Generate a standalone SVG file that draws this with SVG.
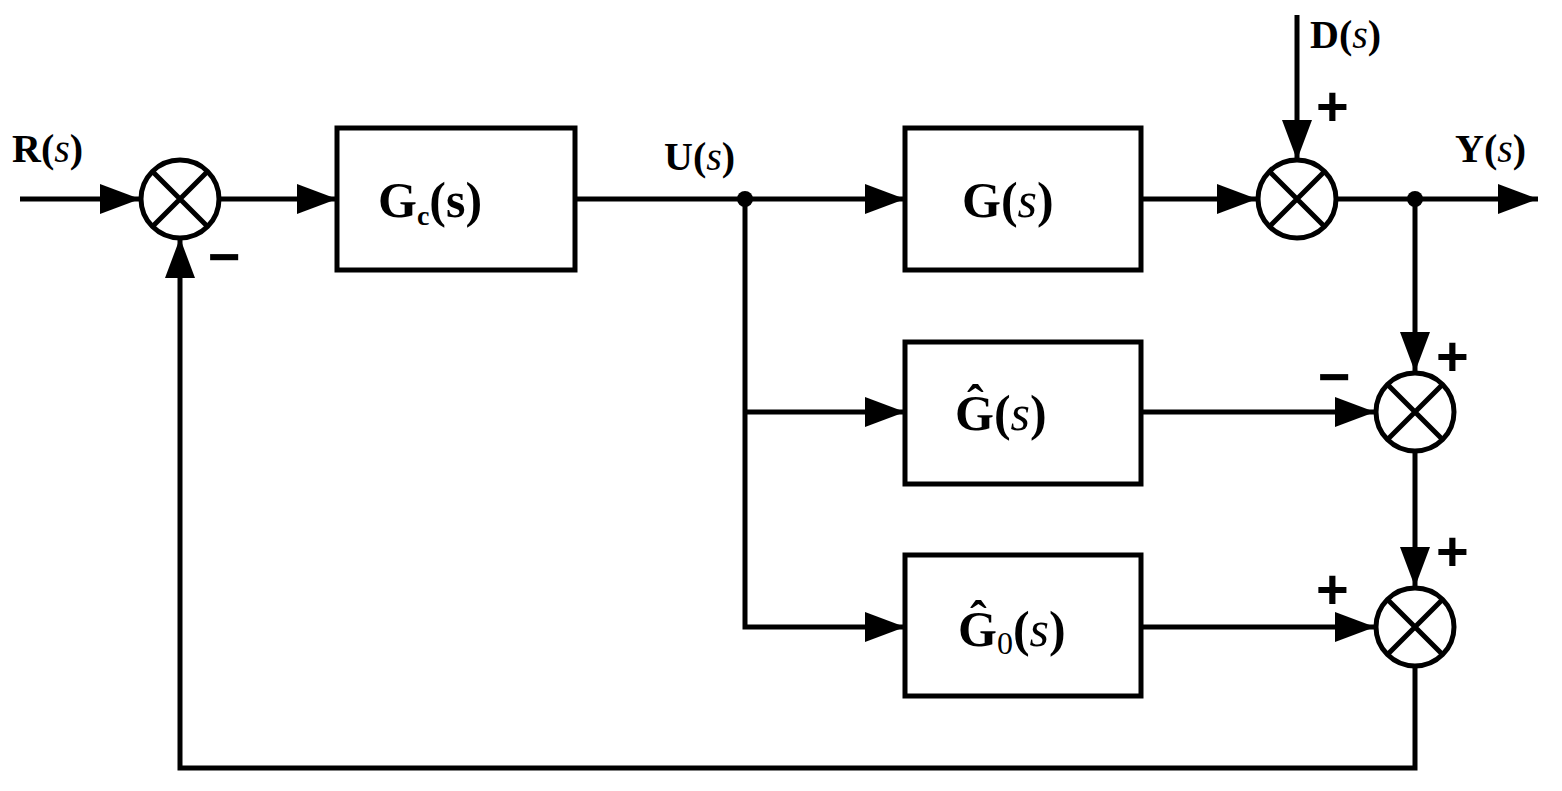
<svg xmlns="http://www.w3.org/2000/svg" width="1562" height="791" viewBox="0 0 1562 791">
<defs>
<marker id="ar" markerWidth="8" markerHeight="6" refX="8" refY="3" orient="auto" markerUnits="strokeWidth"><path d="M0,0 L8,3 L0,6 z" fill="#000"/></marker>
</defs>
<style>
.b{fill:#fff;stroke:#000;stroke-width:5}
.l{fill:none;stroke:#000;stroke-width:5}
.t{font-family:"Liberation Serif",serif;font-weight:bold;font-size:40px}
.bx{font-size:50px}
.s{font-family:"Liberation Serif",serif;font-style:italic;font-weight:normal}
.sg{font-family:"Liberation Sans",sans-serif;font-weight:bold;font-size:56px}
</style>
<rect width="1562" height="791" fill="#fff"/>
<g id="connectors">
<path class="l" d="M20,199 H140" marker-end="url(#ar)"/>
<path class="l" d="M220,199 H337" marker-end="url(#ar)"/>
<path class="l" d="M575,199 H905" marker-end="url(#ar)"/>
<path class="l" d="M1141,199 H1257" marker-end="url(#ar)"/>
<path class="l" d="M1297,15 V160" marker-end="url(#ar)"/>
<path class="l" d="M1337,199 H1538" marker-end="url(#ar)"/>
<path class="l" d="M1415,199 V372" marker-end="url(#ar)"/>
<path class="l" d="M745,199 V627 H905" marker-end="url(#ar)"/>
<path class="l" d="M745,412 H905" marker-end="url(#ar)"/>
<path class="l" d="M1141,412 H1375" marker-end="url(#ar)"/>
<path class="l" d="M1141,627 H1375" marker-end="url(#ar)"/>
<path class="l" d="M1415,452 V587" marker-end="url(#ar)"/>
<path class="l" d="M1415,667 V768 H180 V238" marker-end="url(#ar)"/>
<circle cx="745" cy="199" r="8"/>
<circle cx="1415" cy="199" r="8"/>
</g>
<g id="sum1"><circle class="b" cx="180" cy="199" r="39"/><path class="l" d="M152,171 L208,227 M208,171 L152,227"/></g>
<g id="sum2"><circle class="b" cx="1297" cy="199" r="39"/><path class="l" d="M1269,171 L1325,227 M1325,171 L1269,227"/></g>
<g id="sum3"><circle class="b" cx="1415" cy="412" r="39"/><path class="l" d="M1387,384 L1443,440 M1443,384 L1387,440"/></g>
<g id="sum4"><circle class="b" cx="1415" cy="627" r="39"/><path class="l" d="M1387,599 L1443,655 M1443,599 L1387,655"/></g>
<g id="Gc"><rect class="b" x="337" y="128" width="238" height="142"/><text class="t bx" x="378" y="217">G<tspan style="font-size:28px" dy="8">c</tspan><tspan dy="-8">(s)</tspan></text></g>
<g id="G"><rect class="b" x="905" y="128" width="236" height="142"/><text class="t bx" x="962" y="217">G(<tspan class="s">s</tspan>)</text></g>
<g id="Ghat"><rect class="b" x="905" y="342" width="236" height="142"/><text class="t bx" x="955" y="430">Ĝ(<tspan class="s">s</tspan>)</text></g>
<g id="Ghat0"><rect class="b" x="905" y="555" width="236" height="141"/><text class="t bx" x="958" y="646">Ĝ<tspan style="font-size:32px;font-weight:normal" dy="8">0</tspan><tspan dy="-8">(<tspan class="s">s</tspan>)</tspan></text></g>
<g id="labels">
<text class="t" x="12" y="162">R(<tspan class="s">s</tspan>)</text>
<text class="t" x="664" y="170">U(<tspan class="s">s</tspan>)</text>
<text class="t" x="1310" y="48">D(<tspan class="s">s</tspan>)</text>
<text class="t" x="1455" y="162">Y(<tspan class="s">s</tspan>)</text>
<text class="sg" x="1316" y="125">+</text>
<text class="sg" x="208" y="276">−</text>
<text class="sg" x="1318" y="396">−</text>
<text class="sg" x="1436" y="375">+</text>
<text class="sg" x="1436" y="570">+</text>
<text class="sg" x="1316" y="608">+</text>
</g>
</svg>
